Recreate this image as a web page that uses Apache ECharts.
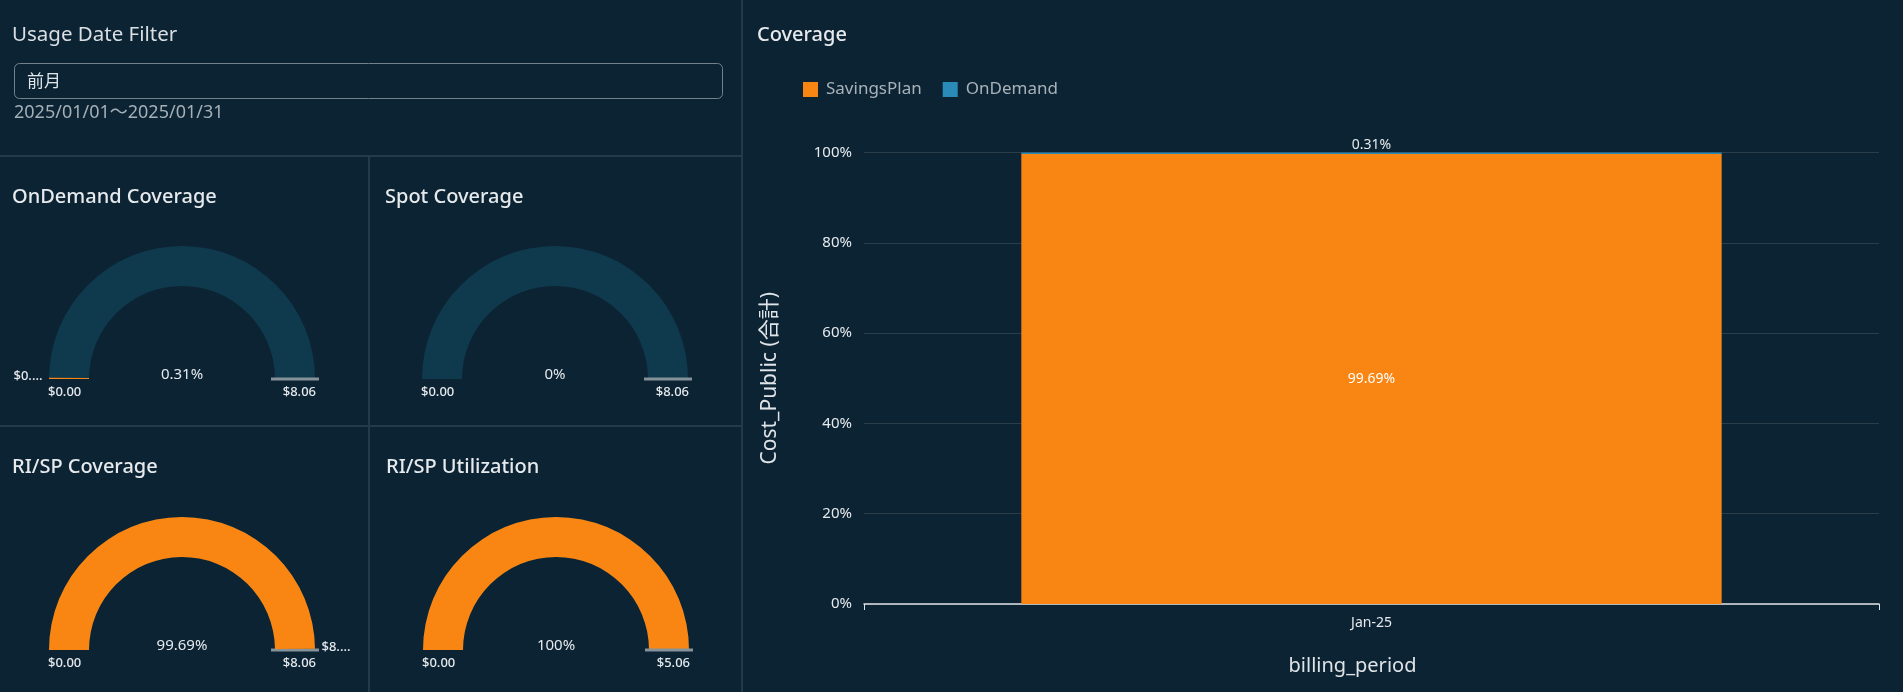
<!DOCTYPE html>
<html>
<head>
<meta charset="utf-8">
<script src="https://cdn.jsdelivr.net/npm/echarts@6/dist/echarts.min.js"></script>
<style>
  html, body { margin: 0; padding: 0; background: #0c2333; }
  #chart { width: 1903px; height: 692px; }
</style>
</head>
<body>
<div id="chart"></div>
<script>
// ---------- data ----------
const filterLabel = 'Usage Date Filter';
const filterValue = '前月';
const filterRange = '2025/01/01～2025/01/31';

const gaugeTitles = ['OnDemand Coverage', 'Spot Coverage', 'RI/SP Coverage', 'RI/SP Utilization'];
const gaugeValues = [0.025, 0, 8.035, 5.06];      // dollars
const gaugeTargets = [8.06, 8.06, 8.06, 5.06];    // dollars (gauge max / target)
const gaugeValueLabels = ['$0....', '', '$8....', ''];

const barTitle = 'Coverage';
const categories = ['Jan-25'];
const seriesNames = ['SavingsPlan', 'OnDemand'];
const savingsPlan = [99.69];
const onDemand = [0.31];
const yAxisName = 'Cost_Public (合計)';
const xAxisName = 'billing_period';

// ---------- style ----------
const FONT = '"Noto Sans", "Noto Sans CJK JP", sans-serif';
const BG = '#0c2333';
const ORANGE = '#f98612';
const BLUE = '#2a8ab8';
const ARC_BG = '#0f3a4d';
const DIV = '#223b49';
const TEXT = '#e6eaed';

const gaugeCenters = [[182, 379], [555, 379], [182, 650], [556, 650]];
const titlePos = [[12, 187], [385, 187], [12, 457], [386, 457]];
const R = 133, W = 40;

const chart = echarts.init(document.getElementById('chart'), null, { renderer: 'canvas' });

function pct(v, t) { return parseFloat((v / t * 100).toFixed(2)) + '%'; }

const titles = [
  { text: filterLabel, left: 12, top: 25, padding: 0, textStyle: { color: '#d9dfe3', fontSize: 20.5, fontWeight: 'normal', fontFamily: FONT } },
  { text: barTitle, left: 757, top: 25, padding: 0, textStyle: { color: TEXT, fontSize: 20, fontWeight: 500, fontFamily: FONT } }
];
gaugeTitles.forEach((t, i) => {
  titles.push({ text: t, left: titlePos[i][0], top: titlePos[i][1], padding: 0, textStyle: { color: TEXT, fontSize: 20, fontWeight: 500, fontFamily: FONT } });
});

const series = [];
gaugeTitles.forEach((t, i) => {
  const v = gaugeValues[i], tgt = gaugeTargets[i];
  const side = v / tgt < 0.5 ? -1 : 1;
  series.push({
    type: 'gauge',
    center: gaugeCenters[i],
    radius: R,
    startAngle: 180,
    endAngle: 0,
    min: 0,
    max: tgt,
    splitNumber: 1,
    animation: false,
    axisLine: { lineStyle: { width: W, color: [[1, ARC_BG]] } },
    progress: { show: true, width: W, itemStyle: { color: ORANGE } },
    pointer: { show: false },
    anchor: { show: false },
    axisTick: { show: false },
    splitLine: { show: false, length: 0, distance: 0 },
    axisLabel: {
      show: true,
      distance: -1,
      color: TEXT,
      fontSize: 13,
      fontWeight: 500,
      fontFamily: FONT,
      lineHeight: 26,
      formatter: (val) => '\n$' + Number(val).toFixed(2)
    },
    title: { show: true, color: TEXT, fontSize: 13, fontWeight: 500, fontFamily: FONT },
    detail: {
      show: true,
      offsetCenter: [0, -4],
      color: TEXT,
      fontSize: 15,
      fontWeight: 'normal',
      fontFamily: FONT,
      formatter: (val) => pct(val, tgt)
    },
    data: [{ value: v, name: gaugeValueLabels[i], title: { offsetCenter: [side * 154, -3] } }]
  });
  // target marker
  series.push({
    type: 'gauge',
    center: gaugeCenters[i],
    radius: R,
    startAngle: 180,
    endAngle: 0,
    min: 0,
    max: tgt,
    animation: false,
    axisLine: { show: false },
    progress: { show: false },
    axisTick: { show: false },
    splitLine: { show: false },
    axisLabel: { show: false },
    anchor: { show: false },
    title: { show: false },
    detail: { show: false },
    pointer: { show: true, icon: 'rect', width: 3, length: 48, offsetCenter: [0, -89], itemStyle: { color: '#86929a' } },
    data: [{ value: tgt }]
  });
});

series.push({
  name: seriesNames[0],
  type: 'bar',
  stack: 'total',
  barWidth: '69%',
  data: savingsPlan,
  itemStyle: { color: ORANGE },
  label: { show: true, position: 'inside', color: '#ffffff', fontSize: 14, fontFamily: FONT, formatter: '{c}%' }
});
series.push({
  name: seriesNames[1],
  type: 'bar',
  stack: 'total',
  barWidth: '69%',
  data: onDemand,
  itemStyle: { color: BLUE },
  label: { show: true, position: 'top', distance: 0, color: TEXT, fontSize: 14, fontFamily: FONT, formatter: '{c}%' }
});

const option = {
  backgroundColor: BG,
  animation: false,
  textStyle: { fontFamily: FONT },
  title: titles,
  legend: {
    data: seriesNames,
    left: 798,
    top: 76,
    itemWidth: 15,
    itemHeight: 15,
    itemGap: 21,
    icon: 'rect',
    textStyle: { color: '#a7b2b9', fontSize: 17, fontFamily: FONT, padding: [0, 0, 0, 3] }
  },
  grid: { left: 864, right: 24, top: 152.5, bottom: 88, containLabel: false },
  xAxis: {
    type: 'category',
    data: categories,
    name: xAxisName,
    nameLocation: 'middle',
    nameGap: 52,
    nameTextStyle: { color: '#dfe4e8', fontSize: 20, fontFamily: FONT, padding: [0, 38, 0, 0] },
    axisLine: { lineStyle: { color: '#dfe3e6', width: 1.5 } },
    axisTick: { show: true, length: 6, lineStyle: { color: '#dfe3e6' } },
    axisLabel: { color: TEXT, fontSize: 14, margin: 12, fontFamily: FONT }
  },
  yAxis: {
    type: 'value',
    min: 0,
    max: 100,
    interval: 20,
    name: yAxisName,
    nameLocation: 'middle',
    nameGap: 83,
    nameTextStyle: { color: '#dfe4e8', fontSize: 21, fontFamily: FONT },
    axisLine: { show: false },
    axisTick: { show: false },
    splitLine: { lineStyle: { color: '#2b3d49', width: 1 } },
    axisLabel: { color: TEXT, fontSize: 15, margin: 12, fontFamily: FONT, formatter: '{value}%' }
  },
  graphic: [
    { type: 'line', shape: { x1: 742, y1: 0, x2: 742, y2: 692 }, style: { stroke: DIV, lineWidth: 2 } },
    { type: 'line', shape: { x1: 0, y1: 156, x2: 741, y2: 156 }, style: { stroke: DIV, lineWidth: 2 } },
    { type: 'line', shape: { x1: 0, y1: 426, x2: 741, y2: 426 }, style: { stroke: DIV, lineWidth: 2 } },
    { type: 'line', shape: { x1: 369, y1: 156, x2: 369, y2: 692 }, style: { stroke: DIV, lineWidth: 2 } },
    { type: 'rect', shape: { x: 14.5, y: 63.5, width: 708, height: 35, r: 5 }, style: { fill: 'transparent', stroke: '#71828c', lineWidth: 1 } },
    { type: 'text', style: { text: filterValue, x: 27, y: 82, fill: '#dfe5e9', fontSize: 17, fontFamily: FONT, verticalAlign: 'middle' } },
    { type: 'text', style: { text: filterRange, x: 14, y: 113, fill: '#a4afb6', fontSize: 18, fontFamily: FONT, verticalAlign: 'middle' } }
  ],
  series: series
};

chart.setOption(option);
</script>
</body>
</html>
